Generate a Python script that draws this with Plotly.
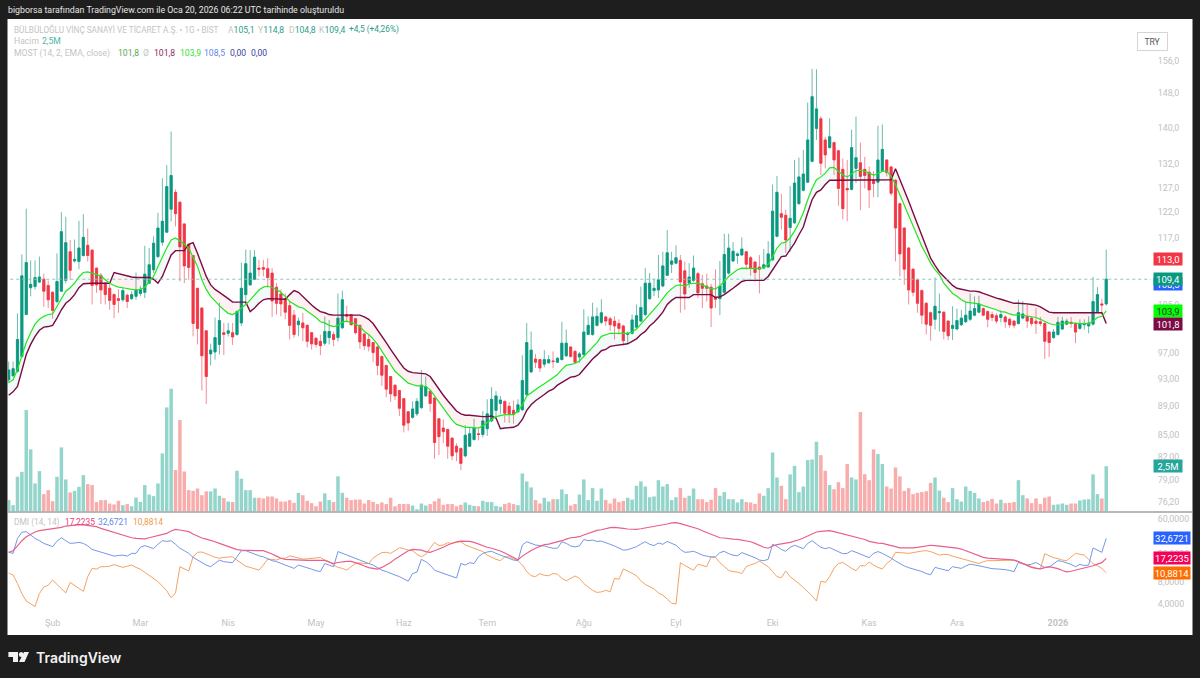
import math
import plotly.graph_objects as go

# values, one entry per daily bar
opens = [92.9,93.5,94.2,96.5,103.3,107.9,108.1,108.9,109.4,108.3,
107.1,105.5,107.3,109.2,114.4,112.7,112.6,113.7,115.6,114.7,
111.4,110.1,108.7,107.8,106.7,106.0,105.8,106.6,106.0,106.4,
106.9,107.1,108.7,111.1,113.5,116.2,118.1,122.6,126.0,124.0,
119.7,115.8,113.7,107.8,104.4,100.6,96.9,97.2,98.4,100.3,
100.2,100.3,100.0,101.9,106.7,108.4,109.4,111.4,111.5,111.3,
110.5,108.0,106.8,106.0,104.8,103.2,101.6,101.9,101.5,100.3,
99.4,98.9,98.6,99.5,100.0,99.5,101.1,103.3,103.3,102.6,
101.5,100.1,99.2,98.7,98.0,96.5,95.1,93.4,92.1,91.3,
90.1,88.2,87.4,87.9,88.8,90.5,91.2,90.2,87.2,85.9,
85.7,84.5,83.4,83.1,82.1,83.4,84.3,85.1,85.0,85.8,
86.9,88.4,89.4,89.7,89.0,88.4,88.2,88.5,90.7,94.1,
96.1,96.0,95.3,95.5,95.8,95.6,96.0,96.6,98.0,97.3,
96.4,96.8,100.0,100.0,101.5,
102.0,102.9,102.6,102.2,101.8,101.4,100.0,100.2,101.2,102.2,
103.3,106.0,107.4,107.5,108.2,110.1,112.1,112.3,112.8,110.9,
108.7,109.2,110.4,108.6,108.2,108.0,106.3,106.0,107.1,110.5,
112.7,113.7,113.8,114.4,113.3,112.5,111.6,111.4,111.6,112.9,
117.3,121.7,121.4,119.0,119.9,123.7,126.4,128.1,132.5,139.8,
142.0,137.2,135.5,136.6,134.8,130.8,126.8,126.6,131.0,132.2,
130.8,130.2,128.5,128.1,130.5,132.8,131.3,128.5,123.7,118.9,
115.1,111.2,109.3,107.4,105.2,103.6,102.5,103.6,103.7,102.2,
101.0,100.9,101.6,102.1,102.5,103.2,103.7,104.3,103.8,103.3,
103.1,102.8,102.9,102.5,102.2,101.8,102.7,103.0,102.7,102.2,
102.1,101.8,100.4,99.5,100.0,100.9,101.7,102.0,101.8,101.0,
101.6,101.4,101.7,103.8,105.1,105.1]

highs = [95.7,95.7,103.5,113.9,122.7,112.8,112.8,113.5,110.4,109.2,
107.3,114.1,122.0,121.1,116.6,116.7,120.3,121.6,118.8,114.9,
111.5,110.5,108.8,108.7,106.9,107.6,107.9,106.9,107.3,110.6,
108.2,115.5,115.1,117.3,121.9,128.9,131.7,139.1,126.6,124.1,
119.8,115.9,113.8,107.9,104.5,100.7,98.5,102.8,105.3,101.9,
101.9,101.9,104.0,112.4,114.8,114.7,114.7,112.9,112.9,113.2,
111.4,108.7,107.6,106.9,105.5,104.1,102.8,103.6,101.7,100.4,
99.5,100.0,103.0,102.4,100.5,106.9,107.4,104.8,103.4,102.7,
101.6,100.2,100.0,98.8,98.2,96.6,95.2,93.5,92.2,91.4,
90.2,88.3,89.7,90.2,94.4,93.4,91.3,90.3,87.3,87.1,
85.8,84.6,83.8,83.2,86.3,85.9,87.2,85.8,88.3,90.0,
91.8,91.2,90.5,89.8,89.6,89.8,90.0,96.7,101.9,100.5,
96.9,96.1,97.5,96.7,97.3,96.4,102.1,100.8,98.1,97.5,
97.2,104.2,103.0,105.3,104.5,
105.9,103.1,102.9,103.0,102.5,101.6,100.5,103.3,105.0,108.1,
111.4,110.5,109.5,113.8,114.4,118.5,114.4,115.6,113.8,112.6,
112.3,113.7,110.7,110.2,110.4,108.6,111.2,112.7,117.8,117.8,
116.2,114.3,117.1,114.5,113.6,112.7,113.8,114.9,116.4,127.6,
129.4,125.7,122.5,127.3,132.8,133.3,135.0,145.8,154.0,153.9,
142.6,137.9,142.1,136.8,135.0,133.1,132.8,139.5,142.5,136.6,
133.5,131.4,130.4,140.4,140.7,133.0,131.6,128.7,123.9,119.1,
115.3,111.4,109.5,107.6,105.4,103.8,109.7,106.9,103.8,102.4,
104.7,104.3,104.1,105.5,106.9,106.4,106.5,104.5,104.0,103.8,
103.5,104.0,103.2,102.8,102.4,105.8,105.6,105.2,103.0,104.4,
102.9,102.2,100.6,100.9,102.9,102.9,102.6,102.9,102.0,102.5,
102.5,103.0,109.8,108.0,106.0,114.8]

lows = [92.4,93.4,94.0,96.3,103.2,106.4,107.6,108.7,104.6,104.4,
102.6,105.2,107.2,108.7,109.3,112.4,111.2,113.5,112.6,105.0,
107.0,105.1,105.0,104.1,102.7,103.6,105.5,104.4,105.8,105.8,
106.4,106.1,108.6,110.5,113.2,115.5,118.0,120.2,119.2,109.0,
108.7,109.3,99.7,98.4,91.3,89.3,95.1,96.0,96.8,96.7,
99.7,98.3,99.8,101.4,105.0,108.3,109.3,109.9,109.9,107.9,
102.9,103.3,103.0,102.5,99.2,99.5,99.7,98.9,97.9,97.6,
97.9,96.7,98.2,98.4,98.1,98.9,100.9,102.0,101.5,100.0,
97.7,97.5,97.3,95.6,93.6,92.0,90.3,89.6,89.9,87.6,
85.3,85.5,87.2,87.6,88.6,90.4,88.2,81.7,82.2,83.8,
81.7,81.5,81.4,80.2,81.9,83.3,84.2,84.2,84.6,84.8,
86.7,87.6,87.9,86.7,86.6,86.5,88.0,88.3,90.6,93.9,
94.7,94.1,94.8,95.4,94.7,95.5,95.9,96.4,96.3,95.4,
95.5,96.6,99.9,99.8,101.3,
101.7,101.4,100.6,99.2,100.0,98.2,98.5,100.0,100.9,102.0,
103.0,105.8,106.4,106.1,108.0,110.0,110.5,112.1,103.6,104.1,
107.9,108.9,106.1,104.4,105.5,101.2,104.4,103.2,106.8,110.2,
112.5,112.2,113.6,111.1,110.0,109.0,106.9,111.2,111.4,112.7,
117.1,118.6,114.2,114.4,119.7,123.5,126.2,127.9,132.3,137.2,
129.6,131.0,135.3,129.6,123.3,120.6,120.2,126.4,127.9,122.4,
126.8,122.8,125.0,125.0,130.3,129.3,125.3,112.6,109.9,108.4,
105.0,106.4,103.6,101.7,100.0,99.0,100.8,100.5,99.2,99.1,
99.1,100.7,101.4,101.9,102.2,103.0,103.5,103.0,101.2,102.2,
101.8,102.0,101.1,101.1,101.0,101.6,102.5,101.1,101.4,100.1,
101.4,96.1,96.4,99.3,99.8,100.7,101.5,101.1,98.6,100.8,
100.8,100.2,101.5,103.6,103.6,104.8]

closes = [94.4,94.6,99.2,110.0,112.4,108.5,109.7,109.8,107.3,105.8,
104.0,109.0,118.2,116.1,111.0,113.0,115.1,117.1,113.7,108.3,
108.4,107.5,106.7,105.7,105.0,105.7,107.4,105.5,106.7,107.5,
107.6,110.3,112.0,116.0,118.9,120.2,127.2,129.5,121.7,115.3,
111.8,111.5,101.8,101.0,96.6,93.4,97.5,99.5,102.3,100.0,
100.6,99.6,103.8,107.8,112.2,110.5,113.4,111.2,111.2,109.7,
105.6,105.2,105.1,103.7,101.5,100.0,102.2,101.1,98.9,98.5,
98.4,98.2,100.5,100.5,99.2,102.7,105.8,103.0,101.6,100.3,
98.8,98.2,98.1,97.1,95.1,93.6,91.5,90.8,90.5,88.7,
86.3,86.6,88.6,89.7,92.1,91.9,89.4,83.9,84.7,85.4,
83.4,82.1,82.6,81.1,84.9,85.1,85.9,85.0,86.9,87.9,
90.0,90.5,89.9,88.0,87.9,87.8,89.2,92.8,98.7,97.5,
95.6,94.7,96.0,96.0,95.7,96.2,98.6,98.6,96.5,95.6,
96.9,100.4,101.5,102.9,103.0,
103.6,102.2,101.6,101.4,101.0,99.0,100.2,102.4,103.1,104.5,
108.7,108.7,107.8,109.3,111.8,114.2,112.7,113.3,108.9,106.8,
109.8,111.4,107.0,107.8,107.8,104.4,105.9,108.2,113.9,115.1,
114.5,114.0,114.9,112.1,111.4,110.6,111.2,112.0,114.0,122.2,
126.0,121.0,116.6,120.8,127.9,129.2,129.8,137.2,147.2,144.3,
132.1,133.9,137.9,132.8,126.8,122.7,126.5,135.5,133.3,129.3,
129.5,126.5,127.8,132.8,135.1,130.1,125.8,118.9,114.0,111.2,
107.5,107.1,105.2,103.2,101.7,101.5,104.7,103.8,100.5,99.8,
101.5,102.3,102.7,103.2,103.9,104.3,105.1,103.2,102.5,102.8,
102.2,103.3,102.1,101.6,101.5,103.6,103.4,102.2,101.8,101.8,
101.8,98.9,98.7,100.4,102.0,102.2,102.2,101.8,100.4,101.8,
101.8,101.9,105.5,106.7,104.9,109.4]

# volume in millions
volumes = [.63,.35,1.92,2.19,5.60,3.43,1.55,2.23,.96,1.18,
.57,1.92,3.54,1.77,1.05,1.14,1.36,2.01,1.51,1.46,
.52,.63,.63,.44,.39,.59,.35,.41,.29,.77,
.53,1.46,.94,.85,1.55,3.21,5.75,6.78,2.29,5.05,
2.21,1.18,1.14,1.27,.90,1.11,1.11,1.27,.87,.74,
.55,.52,2.25,1.81,1.18,1.18,.76,.76,.72,.83,
.83,.72,.55,.55,.63,.48,1.03,.90,.59,.46,
.29,.55,1.00,.63,.52,1.94,1.03,.76,.63,.66,
.66,.44,.63,.53,.41,.50,.41,.76,.29,.42,
.42,.41,.33,.13,.44,.33,.41,.57,.72,.37,
.41,.41,.29,.37,.50,.37,.31,.29,.59,.52,
.52,.31,.26,.41,.48,.41,.35,2.10,1.66,1.33,
.63,.44,.76,.55,.68,.68,1.22,.96,.33,.41,
.94,1.77,.63,1.29,.59,
1.27,.63,.44,.72,.52,.59,.76,.66,1.42,1.66,
1.38,.79,.83,1.73,1.38,1.51,.63,.79,1.29,.76,
.87,1.27,.68,.68,.52,.65,1.29,.87,1.07,.68,
.68,.50,.68,.52,.50,.42,1.00,.87,1.29,3.26,
1.88,1.42,.68,2.05,2.52,1.07,1.38,2.84,2.87,3.85,
3.11,2.25,1.46,1.23,1.62,1.29,2.62,1.88,1.77,5.49,
2.06,1.73,3.43,3.17,2.62,1.38,1.27,2.43,1.94,1.14,
1.29,.96,1.03,1.07,1.12,1.58,1.88,1.16,.76,.52,
1.29,.68,.55,1.38,1.14,1.03,.72,.52,.59,.70,
.44,.65,.46,.48,.52,1.73,.90,.72,.46,.72,
.41,.76,.83,.37,.39,.44,.37,.44,.44,.61,
.66,.68,2.05,.96,.72,2.5]

# MOST (14, 2, EMA, close)
ema_line = [92.5,92.9,94.5,96.5,98.7,100.3,101.7,102.5,103.0,103.3,
103.4,104.7,106.1,107.3,107.9,108.7,109.8,110.6,110.7,110.5,
110.3,110.0,109.3,108.7,108.3,108.0,107.9,107.7,107.6,107.5,
107.6,108.0,109.0,109.9,111.7,113.5,115.1,116.6,117.0,116.4,
115.9,115.1,113.5,111.7,109.3,107.6,106.4,105.5,104.8,104.1,
103.5,103.3,103.7,104.4,105.0,105.8,106.7,107.5,108.0,108.2,
107.9,107.6,107.1,106.4,105.5,105.0,104.6,104.4,103.9,103.3,
102.8,102.1,101.9,101.5,101.3,101.5,102.0,102.2,102.0,101.7,
101.3,100.5,100.0,99.3,98.4,97.3,96.3,95.3,94.2,93.6,
93.0,92.4,92.2,92.0,92.0,91.9,91.4,90.5,89.5,88.6,
87.8,87.0,86.4,86.2,86.0,86.0,85.9,85.9,86.2,86.7,
87.1,87.5,87.7,87.8,87.8,87.8,88.3,89.2,90.5,91.0,
91.4,91.9,92.3,92.7,93.2,93.7,94.5,95.1,95.3,95.4,
95.8,96.5,97.3,98.0,98.7,
99.7,100.0,100.2,100.2,100.2,100.1,100.2,100.4,100.9,101.7,
102.5,103.3,104.1,105.0,106.0,107.0,107.7,108.3,108.4,108.2,
108.6,108.7,108.7,108.4,108.0,107.7,107.7,108.2,109.0,109.9,
110.5,111.1,111.4,111.4,111.4,111.3,111.3,111.5,112.1,113.5,
115.1,116.0,116.2,117.0,118.3,119.9,121.9,124.5,126.8,128.6,
129.2,130.0,131.1,131.2,130.4,129.6,129.2,129.9,130.5,130.6,
130.4,130.0,129.6,129.9,130.4,130.4,129.3,127.6,125.5,123.5,
121.2,119.2,117.4,115.4,113.9,112.3,111.1,110.2,108.7,107.8,
106.9,106.4,105.8,105.4,105.3,105.2,105.1,104.8,104.6,104.3,
104.1,103.8,103.7,103.4,103.2,103.3,103.2,103.0,102.9,102.8,
102.5,102.1,101.8,101.6,101.6,101.8,102.0,101.9,101.8,101.8,
101.8,101.8,102.2,102.8,103.0,103.9]

most_line = [90.6,91.1,91.9,94.5,96.8,98.4,99.7,100.7,101.2,101.3,
101.5,102.7,104.1,105.2,105.8,106.7,107.9,108.6,108.7,108.7,
108.7,108.7,108.7,108.7,110.6,110.4,110.2,109.9,109.8,109.7,
109.7,109.7,109.7,109.4,108.7,109.9,112.0,113.8,114.6,114.6,
114.6,115.8,116.1,114.1,112.0,109.9,108.4,107.6,107.1,106.6,
106.0,105.4,105.4,105.4,105.4,103.8,104.4,105.2,105.8,106.0,
106.0,106.0,106.0,105.9,106.7,107.4,107.1,106.3,105.6,104.9,
104.3,103.8,103.6,103.3,103.2,103.2,103.2,103.2,103.2,103.2,
103.2,102.9,102.5,101.8,100.8,99.7,98.7,97.6,96.5,95.6,
94.7,94.2,94.0,93.9,93.9,93.8,93.4,92.4,91.4,90.6,
89.8,89.0,88.3,87.9,87.7,87.7,87.6,87.6,87.5,87.5,
87.6,87.3,85.8,85.9,85.9,86.0,86.3,87.1,88.4,89.2,
89.8,90.2,90.7,91.2,91.5,92.1,92.5,93.0,93.3,93.4,
93.7,94.5,95.3,96.1,96.7,
97.4,97.6,98.1,98.2,98.3,98.3,98.5,98.9,99.3,100.0,
100.5,101.4,102.0,102.8,103.7,105.0,105.7,106.2,106.2,106.2,
106.2,106.7,106.7,106.7,106.7,106.7,106.2,106.3,106.7,107.2,
107.8,108.4,109.0,109.2,109.2,109.2,109.2,109.2,109.9,111.1,
112.4,113.5,113.6,114.8,116.0,117.6,119.1,121.9,124.5,126.0,
126.5,127.6,128.5,128.5,128.5,128.5,128.5,128.5,128.5,128.5,
128.5,128.5,128.5,128.5,128.5,128.5,128.6,130.9,128.7,126.5,
124.2,121.9,119.6,117.4,115.1,113.2,111.9,110.7,109.9,109.0,
108.3,107.8,107.6,107.4,107.3,107.3,107.2,106.9,106.6,106.3,
106.1,105.9,105.7,105.5,105.2,105.2,105.2,105.1,105.0,104.9,
104.6,104.1,103.7,103.6,103.6,103.6,103.6,103.6,103.6,103.6,
103.6,103.6,103.6,103.6,103.6,101.8]

# DMI (14, 14)
adx_line = [20.9,22.0,25.6,30.3,34.4,37.6,40.0,41.7,42.6,43.0,
44.0,44.9,46.4,48.4,49.5,50.6,50.6,50.1,49.5,49.0,
47.4,44.9,43.0,41.3,39.6,37.6,36.4,34.4,33.3,32.6,
32.2,32.2,33.3,34.4,35.6,37.2,38.3,41.3,43.5,42.6,
41.3,40.4,37.6,35.3,33.0,31.9,30.9,29.3,27.8,26.4,
25.0,23.8,22.8,22.4,22.2,22.2,22.2,22.0,22.0,21.1,
19.8,18.5,17.3,16.7,16.5,16.3,16.3,16.3,16.1,16.1,
16.1,16.1,16.1,15.3,14.6,15.1,15.5,15.6,15.6,15.0,
14.3,13.5,12.8,12.5,12.2,12.9,13.9,15.1,16.8,18.5,
20.2,22.0,22.9,22.7,22.4,21.4,20.9,22.0,23.1,24.6,
26.4,27.8,29.3,29.9,29.9,29.6,28.7,27.2,26.1,24.6,
23.8,22.8,21.8,20.4,19.1,18.0,16.5,18.5,20.4,22.2,
23.8,25.0,26.7,27.2,28.1,28.7,30.3,31.9,33.3,33.7,
34.4,36.4,38.3,40.4,42.1,
43.0,44.9,46.0,46.4,46.0,44.9,44.0,43.5,43.5,44.4,
45.4,46.4,47.4,49.0,50.1,51.7,53.4,53.9,52.2,50.1,
48.4,46.4,44.4,41.7,39.6,37.6,35.3,33.3,33.0,32.2,
31.9,31.5,30.9,30.3,29.3,27.8,26.2,24.6,23.8,25.6,
26.7,27.6,28.1,28.7,29.6,31.2,33.0,35.3,37.6,40.0,
40.9,41.7,41.7,40.4,39.0,37.6,36.4,35.3,34.4,33.0,
31.5,29.6,28.7,28.1,27.8,27.0,25.9,25.0,24.1,24.0,
23.9,24.1,24.5,25.0,25.6,26.2,25.9,25.6,25.3,25.0,
24.5,23.9,23.2,22.0,20.9,19.8,18.7,17.8,17.4,17.3,
16.8,16.8,16.7,16.5,16.3,15.5,14.6,13.6,12.9,12.5,
12.3,12.8,13.2,12.8,12.4,11.7,11.2,11.4,11.8,12.1,
12.4,12.9,13.6,14.3,15.0,17.22]

di_plus = [20.9,20.2,32.6,39.6,40.4,36.4,32.6,30.3,27.8,26.4,
25.0,29.9,33.3,30.3,27.8,28.1,28.7,27.8,25.6,22.9,
22.0,20.9,20.2,19.1,18.5,18.9,19.1,18.5,20.2,20.2,
24.5,25.9,24.5,23.5,27.0,30.3,29.6,30.3,27.0,23.8,
22.0,20.2,17.8,16.3,15.1,13.9,13.2,14.6,16.3,15.5,
15.1,15.0,18.1,22.0,22.0,20.7,19.6,18.7,18.1,16.8,
16.0,15.5,14.6,13.9,13.2,12.5,13.9,13.2,12.7,12.2,
11.6,11.3,14.6,13.9,13.2,21.4,20.2,19.1,18.1,17.3,
16.3,15.5,14.6,13.9,12.9,11.8,11.3,10.6,10.1,9.6,
8.9,8.3,10.6,11.1,16.7,15.5,13.9,11.8,11.2,10.6,
10.1,9.6,9.2,14.6,13.9,15.0,14.6,18.1,20.2,21.1,
21.6,20.2,19.1,18.1,17.3,16.3,16.0,26.4,29.3,27.8,
26.4,25.9,25.6,24.5,23.8,23.8,29.3,27.8,25.6,24.8,
25.6,31.5,30.3,30.9,29.6,
29.9,28.7,27.0,25.6,23.8,22.4,22.7,23.8,25.0,27.2,
29.3,27.0,25.9,28.1,27.0,29.6,28.1,26.2,22.9,20.9,
21.1,21.6,20.4,19.1,18.5,18.0,18.1,20.7,21.6,20.0,
19.1,18.7,20.7,19.6,18.7,17.6,16.3,16.0,16.7,27.0,
25.3,22.9,21.6,24.5,26.2,25.0,23.5,27.8,30.3,27.2,
24.5,23.5,24.3,22.7,21.4,20.0,20.2,22.0,20.9,19.8,
18.7,17.6,20.2,21.4,20.2,18.9,17.4,15.8,14.5,13.5,
12.8,12.3,11.7,11.3,10.6,10.2,12.9,12.4,12.0,11.6,
13.2,12.8,12.5,13.5,14.3,14.0,13.6,13.2,12.7,12.4,
12.3,12.2,12.0,11.7,11.3,15.1,14.5,13.9,14.3,15.1,
13.9,12.9,13.0,14.3,16.0,15.6,15.0,14.2,13.2,14.2,
13.7,13.9,24.0,22.4,20.9,32.67]

di_minus = [10.8,10.1,7.7,5.6,4.4,4.0,3.7,5.6,6.9,7.3,
8.6,7.5,6.6,5.7,8.0,7.2,6.6,6.0,9.6,12.5,
12.2,13.2,13.2,13.4,14.1,13.4,12.9,13.4,13.9,12.9,
12.2,11.0,9.9,9.1,8.2,7.1,6.1,4.9,5.7,13.2,
12.2,11.5,18.1,20.9,21.1,20.2,18.9,17.8,17.3,17.8,
17.8,18.1,16.3,14.6,13.4,12.9,12.3,11.8,13.9,16.8,
16.7,16.3,17.3,17.3,18.7,18.0,17.3,16.8,17.0,17.3,
17.5,17.7,16.3,15.5,13.9,12.9,12.5,11.8,13.2,14.6,
15.0,14.6,14.6,17.3,19.1,20.7,20.9,20.2,22.0,24.2,
23.5,22.4,22.0,19.6,18.1,19.6,23.8,28.7,25.9,26.4,
28.4,27.8,28.7,29.3,26.4,25.0,23.8,22.9,21.4,19.1,
17.8,16.7,16.0,18.1,18.1,17.1,16.0,13.9,11.3,9.9,
9.6,10.6,10.0,9.9,10.6,10.4,9.1,8.4,9.1,9.8,
9.1,7.7,6.9,6.2,5.8,
5.9,6.2,5.9,9.1,8.8,12.3,11.6,10.7,9.9,8.4,
7.5,6.9,6.5,5.7,5.3,4.7,4.1,4.0,15.0,13.7,
12.8,11.8,14.3,13.6,13.2,18.1,17.8,15.0,13.2,11.7,
11.3,11.1,10.6,13.2,14.0,14.6,15.8,14.6,13.2,11.3,
9.6,9.3,11.5,9.6,8.7,7.7,6.8,6.0,5.2,4.4,
8.3,8.0,9.6,12.5,14.6,15.1,13.6,12.5,11.6,13.7,
13.5,15.3,13.9,12.9,12.3,14.6,16.3,20.9,20.7,20.4,
20.2,20.7,21.4,21.8,22.0,21.4,20.2,19.1,19.6,19.4,
18.5,17.8,17.1,16.3,15.8,15.1,14.6,15.5,16.0,16.0,
16.1,16.1,16.1,16.3,16.3,15.5,14.6,13.9,13.2,12.7,
12.3,20.0,18.9,17.6,17.1,16.3,16.0,18.1,20.2,19.6,
19.1,16.7,14.6,13.6,12.5,10.88]

tick_bars = [10, 30, 50, 70, 90, 109, 131, 152, 174, 196, 216, 239]
tick_labels = ["Şub", "Mar", "Nis", "May", "Haz", "Tem", "Ağu", "Eyl", "Eki", "Kas", "Ara", "<b>2026</b>"]
price_ticks = [156, 148, 140, 132, 127, 122, 117, 105, 97, 93, 89, 85, 82, 79, 76.2]
price_tick_labels = ["156,0", "148,0", "140,0", "132,0", "127,0", "122,0", "117,0", "105,0",
                     "97,00", "93,00", "89,00", "85,00", "82,00", "79,00", "76,20"]
dmi_ticks = [60, 20, 8, 4]
dmi_tick_labels = ["60,0000", "20,0000", "8,0000", "4,0000"]

GREEN = "#089981"
RED = "#F23645"
TICK_GREY = "#c2c2c2"
LEGEND_GREY = "#c4c4c4"
FONT = "Roboto"
W, H = 1200, 678
PLOT_L, PLOT_R = 8, 1151
idx = list(range(len(closes)))


def fx(x):
    return x / W


def fy(y):
    return 1 - y / H


fig = go.Figure()

# volume sits on the base axis so the price axis overlays it
fig.add_trace(go.Bar(x=idx, y=volumes, yaxis="y", xaxis="x", width=0.8,
                     marker=dict(color=["#93d5cb" if c >= o else "#f9acac" for o, c in zip(opens, closes)], line_width=0),
                     hoverinfo="skip"))

# wicks first in a lighter tone, bodies on top
fig.add_trace(go.Candlestick(x=idx, open=opens, high=highs, low=lows, close=closes, yaxis="y2", xaxis="x",
                             increasing=dict(line=dict(color="#6dbbad", width=1), fillcolor=GREEN),
                             decreasing=dict(line=dict(color="#f58d97", width=1), fillcolor=RED),
                             whiskerwidth=0, hoverinfo="skip"))
fig.add_trace(go.Candlestick(x=idx, open=opens, close=closes,
                             high=[max(o, c) for o, c in zip(opens, closes)],
                             low=[min(o, c) for o, c in zip(opens, closes)], yaxis="y2", xaxis="x",
                             increasing=dict(line=dict(color=GREEN, width=0.6), fillcolor=GREEN),
                             decreasing=dict(line=dict(color=RED, width=0.6), fillcolor=RED),
                             whiskerwidth=0, hoverinfo="skip"))

# shading between the two MOST lines, one polygon per stretch of the same sign
start = 0
for i in range(1, len(idx) + 1):
    if i == len(idx) or (ema_line[i] >= most_line[i]) != (ema_line[start] >= most_line[start]):
        end = min(i, len(idx) - 1)
        seg = idx[start:end + 1]
        fig.add_trace(go.Scatter(x=seg + seg[::-1], y=ema_line[start:end + 1] + most_line[start:end + 1][::-1],
                                 fill="toself", mode="none", yaxis="y2", xaxis="x", hoverinfo="skip",
                                 fillcolor="rgba(8,153,90,0.05)" if ema_line[start] >= most_line[start] else "rgba(242,54,69,0.07)"))
        start = i

fig.add_trace(go.Scatter(x=idx, y=most_line, mode="lines", line=dict(color="#7b0a45", width=1.4), yaxis="y2", xaxis="x", hoverinfo="skip"))
fig.add_trace(go.Scatter(x=idx, y=ema_line, mode="lines", line=dict(color="#22e622", width=1.2), yaxis="y2", xaxis="x", hoverinfo="skip"))

fig.add_trace(go.Scatter(x=idx, y=di_minus, mode="lines", line=dict(color="#f3a362", width=1), yaxis="y3", xaxis="x", hoverinfo="skip"))
fig.add_trace(go.Scatter(x=idx, y=di_plus, mode="lines", line=dict(color="#7596ea", width=1), yaxis="y3", xaxis="x", hoverinfo="skip"))
fig.add_trace(go.Scatter(x=idx, y=adx_line, mode="lines", line=dict(color="#e8608a", width=1.2), yaxis="y3", xaxis="x", hoverinfo="skip"))

annotations = []


def text_at(x, y, text, color, size=8.6, **kw):
    annotations.append(dict(xref="paper", yref="paper", x=fx(x), y=fy(y), text=text, showarrow=False,
                            xanchor="left", yanchor="middle", font=dict(color=color, size=size, family=FONT),
                            borderpad=0, **kw))


def price_box(val, text, bg, yref, x0=1153, w=28, h=12):
    annotations.append(dict(xref="paper", yref=yref, x=fx(x0), y=math.log10(val) if yref != "y" else val,
                            text=text, showarrow=False, xanchor="left", yanchor="middle", width=w, height=h,
                            align="center", bgcolor=bg, borderpad=0, font=dict(color="white", size=9.5, family=FONT)))


# header strip and legends
text_at(7, 10, "bigborsa tarafından TradingView.com ile Oca 20, 2026 06:22 UTC tarihinde oluşturuldu", "#e6e6e6", 8.8)
text_at(13, 30, "BÜLBÜLOĞLU VİNÇ SANAYİ VE TİCARET A.Ş. • 1G • BIST", LEGEND_GREY, 8.2)
for x, head, val in [(227, "A", "105,1"), (257, "Y", "114,8"), (288, "D", "104,8"), (318, "K", "109,4")]:
    text_at(x, 30, f"<span style='color:{LEGEND_GREY}'>{head}</span>{val}", "#2b9c89")
text_at(348, 30, "+4,5 (+4,26%)", "#2b9c89", 8.3)
text_at(13, 41, "Hacim", LEGEND_GREY)
text_at(41, 41, "2,5M", "#4fb5a5")
text_at(13, 53, "MOST (14, 2, EMA, close)", LEGEND_GREY)
for x, val, col in [(117, "101,8", "#5aa85a"), (142, "Ø", LEGEND_GREY), (153, "101,8", "#8a2a5c"), (179, "103,9", "#35e035"),
                    (203, "108,5", "#5f87e8"), (229, "0,00", "#3a3fa0"), (250, "0,00", "#3a3fa0")]:
    text_at(x, 53, val, col)
text_at(13, 522, "DMI (14, 14)", LEGEND_GREY, 8.4)
text_at(64, 522, "17,2235", "#ec3b76", 8.4)
text_at(97, 522, "32,6721", "#5f87e8", 8.4)
text_at(132, 522, "10,8814", "#f2994a", 8.4)
text_at(35, 657, "TradingView", "#f2f2f2", 14)
annotations[-1]["font"]["family"] = "Inter"
annotations[-1]["font"]["weight"] = 600

annotations.append(dict(xref="paper", yref="paper", x=fx(1168), y=fy(32), text="TRY", showarrow=False,
                        width=27, height=15, bordercolor="#d5d5d5", borderwidth=1, font=dict(color="#555555", size=8.6, family=FONT)))

# last-value tags on the right, hidden ones first
price_box(108.5, "108,5", "#2962ff", "y2")
price_box(113.0, "113,0", RED, "y2")
price_box(closes[-1], "109,4", GREEN, "y2")
price_box(ema_line[-1], "103,9", "#00ff00", "y2")
annotations[-1]["font"]["color"] = "#333333"
price_box(most_line[-1], "101,8", "#7b0a45", "y2")
price_box(volumes[-1], "2,5M", "#26a69a", "y")
price_box(di_plus[-1], "32,6721", "#2962ff", "y3", w=36)
price_box(adx_line[-1], "17,2235", "#f50057", "y3", w=36)
price_box(di_minus[-1], "10,8814", "#ff6d00", "y3", w=36)

shapes = [
    dict(type="rect", xref="paper", yref="paper", x0=fx(7.5), x1=fx(1192.5), y0=fy(19), y1=fy(635),
         fillcolor="white", line_width=0, layer="below"),
    dict(type="line", xref="paper", yref="paper", x0=fx(7.5), x1=fx(1192.5), y0=fy(512), y1=fy(512),
         line=dict(color="#a0a0a0", width=1.6)),
    dict(type="line", xref="x", yref="y2", x0=-1, x1=261, y0=closes[-1], y1=closes[-1],
         line=dict(color="#88c8bd", width=1, dash="dot")),
]


def poly(points):
    return "M" + "L".join(f"{fx(x):.5f},{fy(y):.5f}" for x, y in points) + "Z"


# TradingView mark
shapes.append(dict(type="path", xref="paper", yref="paper", fillcolor="#f2f2f2", line_width=0,
                   path=poly([(8.4, 652), (18, 652), (18, 662), (13, 662), (13, 657), (8.4, 657)])))
shapes.append(dict(type="path", xref="paper", yref="paper", fillcolor="#f2f2f2", line_width=0,
                   path=poly([(24, 652), (29, 652), (24.5, 662), (19, 662)])))
shapes.append(dict(type="circle", xref="paper", yref="paper", fillcolor="#f2f2f2", line_width=0,
                   x0=fx(18.8), x1=fx(23.6), y0=fy(657), y1=fy(652)))

fig.update_layout(
    width=W, height=H, margin=dict(l=0, r=0, t=0, b=0), paper_bgcolor="#1e1e1e", plot_bgcolor="rgba(0,0,0,0)",
    showlegend=False, boxgap=0.3, hovermode=False, annotations=annotations, shapes=shapes,
    font=dict(family=FONT),
    xaxis=dict(domain=[fx(PLOT_L), fx(PLOT_R)], range=[-0.16, 260.2], anchor="y3", tickmode="array",
               tickvals=tick_bars, ticktext=tick_labels, showgrid=False, zeroline=False, showline=False, ticks="",
               rangeslider=dict(visible=False), tickfont=dict(color=TICK_GREY, size=9)),
    yaxis=dict(domain=[fy(511.5), fy(19)], range=[0, 27.2], anchor="x", visible=False, showgrid=False),
    yaxis2=dict(domain=[fy(511.5), fy(19)], overlaying="y", side="right", type="log", anchor="x",
                range=[math.log10(75.0), math.log10(167.0)], tickmode="array", tickvals=price_ticks,
                ticktext=price_tick_labels, showgrid=False, zeroline=False, showline=False,
                ticks="outside", ticklen=4, tickcolor="rgba(0,0,0,0)", tickfont=dict(color=TICK_GREY, size=8.8)),
    yaxis3=dict(domain=[fy(616), fy(513)], side="right", type="log", anchor="x",
                range=[math.log10(2.73), math.log10(73.4)], tickmode="array", tickvals=dmi_ticks,
                ticktext=dmi_tick_labels, showgrid=False, zeroline=False, showline=False,
                ticks="outside", ticklen=4, tickcolor="rgba(0,0,0,0)", tickfont=dict(color=TICK_GREY, size=8.8)),
)

fig.write_html("out.html", config={"displayModeBar": False},
               post_script="document.body.style.margin='0';document.body.style.background='#1e1e1e';")
